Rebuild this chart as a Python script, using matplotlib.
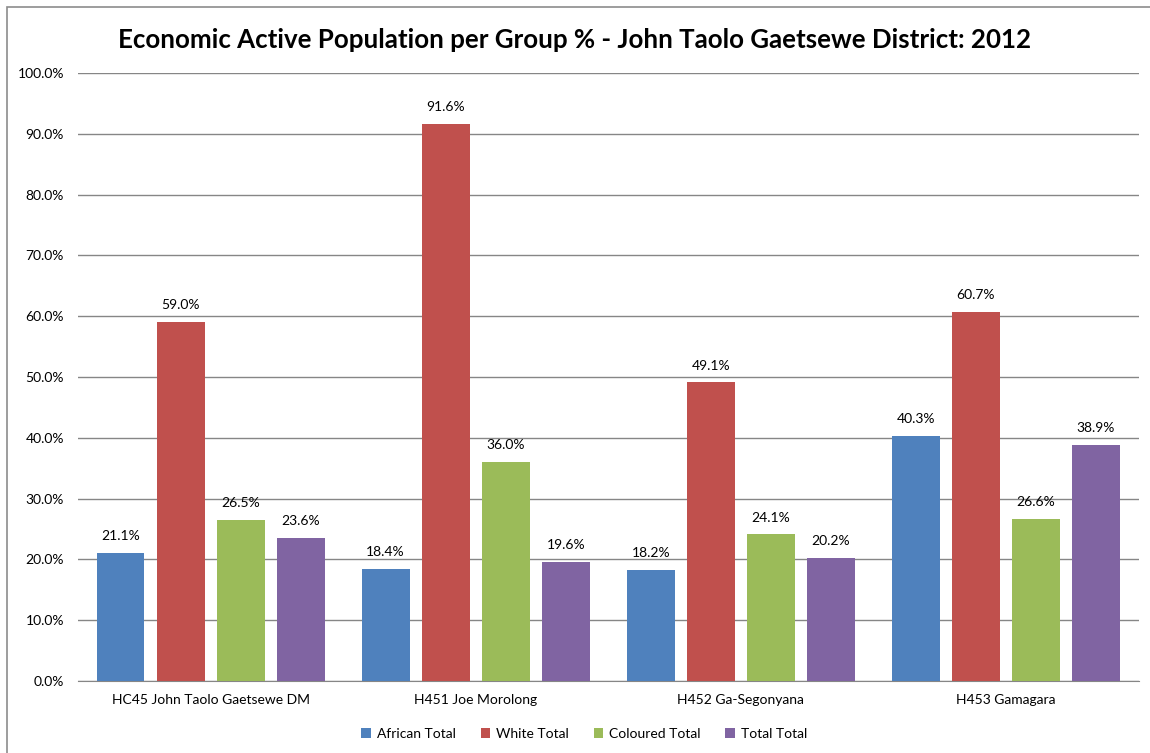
import matplotlib.pyplot as plt
import matplotlib.patches as mpatches
import numpy as np

plt.rcParams['font.family'] = ['Lato', 'DejaVu Sans']

categories = ["HC45 John Taolo Gaetsewe DM", "H451 Joe Morolong",
              "H452 Ga-Segonyana", "H453 Gamagara"]
series_names = ["African Total", "White Total", "Coloured Total", "Total Total"]
african = [21.1, 18.4, 18.2, 40.3]
white = [59.0, 91.6, 49.1, 60.7]
coloured = [26.5, 36.0, 24.1, 26.6]
total = [23.6, 19.6, 20.2, 38.9]
colors = ["#4F81BD", "#C0504D", "#9BBB59", "#8064A2"]

fig = plt.figure(figsize=(11.5, 7.53), dpi=100)
ax = fig.add_axes([0.0678, 0.0956, 0.9222, 0.8074])

# chart border
fig.patches.append(mpatches.Rectangle((7/1150, -0.01), 1.02, 1 - 7/753 + 0.01,
                                      transform=fig.transFigure, fill=False,
                                      edgecolor="#8c8c8c", linewidth=1.2))

x = np.arange(len(categories))
step = 0.2264
width = 0.181
for i, (vals, name) in enumerate(zip([african, white, coloured, total], series_names)):
    pos = x + (i - 1.5) * step
    ax.bar(pos, vals, width, color=colors[i], label=name, zorder=3)
    for p, v in zip(pos, vals):
        ax.text(p, v + 1.8, f"{v:.1f}%", ha="center", va="bottom", fontsize=10)

ax.set_xlim(-0.5, len(categories) - 0.5)
ax.set_ylim(0, 100)
ax.set_yticks(np.arange(0, 101, 10))
ax.set_yticklabels([f"{t:.1f}%" for t in np.arange(0, 101, 10)], fontsize=10)
ax.set_xticks(x)
ax.set_xticklabels(categories, fontsize=10)
ax.tick_params(axis="both", length=0, pad=10)
ax.tick_params(axis="x", pad=9)
ax.yaxis.grid(True, color="#868686", linewidth=1, zorder=0)
for s in ["top", "right", "left"]:
    ax.spines[s].set_visible(False)
ax.spines["bottom"].set_color("#868686")

fig.text(0.5, 1 - 40/753, "Economic Active Population per Group % - John Taolo Gaetsewe District: 2012",
         ha="center", va="center", fontsize=18.6, fontweight="bold")

fig.legend(loc="center", bbox_to_anchor=(0.508, 1 - 734/753), ncol=4, frameon=False,
           fontsize=10, handlelength=0.7, handleheight=0.7, handletextpad=0.4,
           columnspacing=1.8)

fig.savefig("out.png", dpi=100)
